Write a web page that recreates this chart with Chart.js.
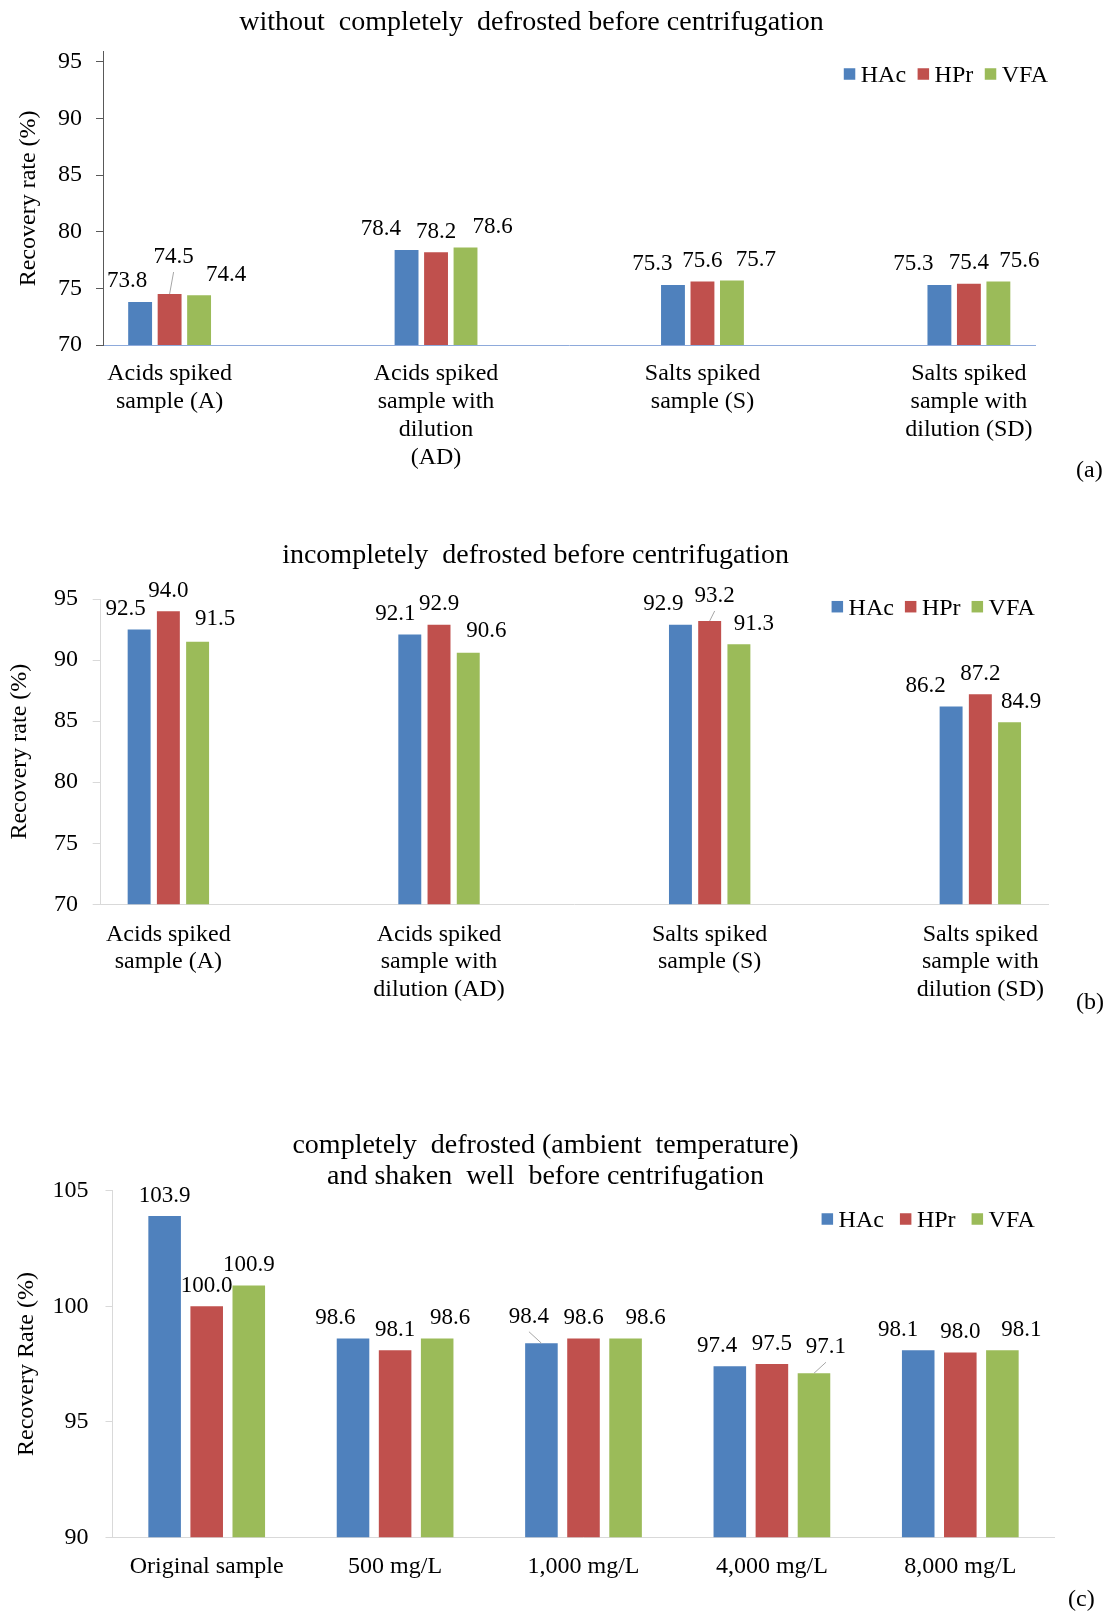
<!DOCTYPE html>
<html>
<head>
<meta charset="utf-8">
<script src="https://cdn.jsdelivr.net/npm/chart.js@4.4.1/dist/chart.umd.min.js"></script>
<style>
  html, body { margin: 0; padding: 0; background: #fff; }
  #page { position: relative; width: 1111px; height: 1617px; overflow: hidden; background: #fff; }
  #page canvas { position: absolute; left: 0; }
</style>
</head>
<body>
<div id="page">
  <canvas id="chartA" width="1111" height="490" style="top:0px"></canvas>
  <canvas id="chartB" width="1111" height="520" style="top:500px"></canvas>
  <canvas id="chartC" width="1111" height="527" style="top:1090px"></canvas>
</div>
<script>
// ---- data ----
const seriesNames = ['HAc', 'HPr', 'VFA'];

// (a) without completely defrosted before centrifugation
const categoriesA = [
  ['Acids spiked', 'sample (A)'],
  ['Acids spiked', 'sample with', 'dilution', '(AD)'],
  ['Salts spiked', 'sample (S)'],
  ['Salts spiked', 'sample with', 'dilution (SD)']
];
const hacA = [73.8, 78.4, 75.3, 75.3];
const hprA = [74.5, 78.2, 75.6, 75.4];
const vfaA = [74.4, 78.6, 75.7, 75.6];
const yTicksA = [70, 75, 80, 85, 90, 95];

// (b) incompletely defrosted before centrifugation
const categoriesB = [
  ['Acids spiked', 'sample (A)'],
  ['Acids spiked', 'sample with', 'dilution (AD)'],
  ['Salts spiked', 'sample (S)'],
  ['Salts spiked', 'sample with', 'dilution (SD)']
];
const hacB = [92.5, 92.1, 92.9, 86.2];
const hprB = [94.0, 92.9, 93.2, 87.2];
const vfaB = [91.5, 90.6, 91.3, 84.9];
const yTicksB = [70, 75, 80, 85, 90, 95];

// (c) completely defrosted and shaken well before centrifugation
const categoriesC = ['Original sample', '500 mg/L', '1,000 mg/L', '4,000 mg/L', '8,000 mg/L'];
const hacC = [103.9, 98.6, 98.4, 97.4, 98.1];
const hprC = [100.0, 98.1, 98.6, 97.5, 98.0];
const vfaC = [100.9, 98.6, 98.6, 97.1, 98.1];
const yTicksC = [90, 95, 100, 105];

// ---- styling ----
const SERIF = "'Liberation Serif', 'Times New Roman', Times, serif";
const seriesColors = ['#4F81BD', '#C0504D', '#9BBB59'];
Chart.defaults.font.family = SERIF;
Chart.defaults.color = '#000';

// Value labels above each bar, with optional nudges and leader lines
const valueLabels = {
  id: 'valueLabels',
  afterDatasetsDraw(chart, args, o) {
    const ctx = chart.ctx;
    ctx.save();
    ctx.font = o.size + 'px ' + SERIF;
    ctx.textAlign = 'center';
    ctx.textBaseline = 'alphabetic';
    chart.data.datasets.forEach((ds, si) => {
      chart.getDatasetMeta(si).data.forEach((bar, ci) => {
        const raw = ds.data[ci];
        const v = typeof raw === 'object' ? raw.y : raw;
        const dx = (o.dx[si] || [])[ci] || 0;
        const lift = (o.lift[si] || [])[ci] || 0;
        const x = bar.x + dx;
        const y = bar.y - o.rise - lift;
        if (o.leaders.some(p => p[0] === si && p[1] === ci)) {
          ctx.strokeStyle = '#A6A6A6';
          ctx.lineWidth = 1;
          ctx.beginPath();
          ctx.moveTo(x, y + 9);
          ctx.lineTo(bar.x, bar.y);
          ctx.stroke();
        }
        ctx.fillStyle = '#000';
        ctx.fillText(v.toFixed(1), x, y);
      });
    });
    ctx.restore();
  }
};

// Panel title, legend and panel tag
const panelText = {
  id: 'panelText',
  afterDraw(chart, args, o) {
    const ctx = chart.ctx;
    ctx.save();
    ctx.fillStyle = '#000';
    ctx.textBaseline = 'alphabetic';
    ctx.textAlign = 'center';
    ctx.font = o.titleSize + 'px ' + SERIF;
    o.title.forEach((line, i) => ctx.fillText(line, o.titleX, o.titleY + i * o.titleGap));

    ctx.font = '24px ' + SERIF;
    ctx.textAlign = 'left';
    const box = 11.5, boxGap = 5.5;
    const items = chart.data.datasets.map(d => ({ label: d.label, color: d.backgroundColor }));
    const total = items.reduce((s, it) => s + box + boxGap + ctx.measureText(it.label).width, 0)
      + o.legendGap * (items.length - 1);
    let x = o.legendRight - total;
    items.forEach(it => {
      ctx.fillStyle = it.color;
      ctx.fillRect(x, o.legendY - box / 2, box, box);
      x += box + boxGap;
      ctx.fillStyle = '#000';
      ctx.fillText(it.label, x, o.legendY + 8);
      x += ctx.measureText(it.label).width + o.legendGap;
    });

    ctx.fillText(o.tag, o.tagX, o.tagY);
    ctx.restore();
  }
};

function makePanel(id, p) {
  const canvas = document.getElementById(id);
  const W = canvas.width, H = canvas.height;
  const linearX = !Array.isArray(p.labels);
  const series = [p.hac, p.hpr, p.vfa];
  const datasets = series.map((vals, si) => ({
    label: seriesNames[si],
    backgroundColor: seriesColors[si],
    borderWidth: 0,
    categoryPercentage: p.catPct,
    barPercentage: p.barPct,
    data: linearX ? vals.map((v, i) => ({ x: i, y: v })) : vals
  }));

  const xScale = {
    offset: !linearX,
    ticks: {
      font: { size: 24, lineHeight: p.lineH / 24 },
      color: '#000',
      padding: p.xPad,
      maxRotation: 0, minRotation: 0,
      autoSkip: false
    },
    grid: { display: false, drawTicks: false, tickLength: 0 },
    border: { display: true, color: p.xAxisColor, width: 1 },
    afterFit: s => { s.height = H - p.area.bottom; }
  };
  if (linearX) {
    const cats = p.cats;
    xScale.type = 'linear';
    xScale.min = -0.25;
    xScale.max = cats.length - 0.75;
    xScale.afterBuildTicks = s => { s.ticks = cats.map((_, i) => ({ value: i })); };
    xScale.ticks.callback = v => cats[v];
  } else {
    xScale.type = 'category';
  }

  return new Chart(canvas, {
    type: 'bar',
    data: { labels: linearX ? undefined : p.labels, datasets },
    plugins: [valueLabels, panelText],
    options: {
      responsive: false,
      animation: false,
      devicePixelRatio: 1,
      events: [],
      layout: { padding: { left: 0, right: W - p.area.right, top: p.area.top, bottom: 0 } },
      scales: {
        x: xScale,
        y: {
          min: p.yMin, max: p.yMax,
          afterBuildTicks: s => { s.ticks = p.yTicks.map(v => ({ value: v })); },
          ticks: { font: { size: 24 }, color: '#000', padding: p.yPad },
          grid: { display: true, drawOnChartArea: false, drawTicks: true, tickLength: p.tickLen, color: p.yAxisColor, lineWidth: 1 },
          border: { display: true, color: p.yAxisColor, width: 1 },
          title: {
            display: true, text: p.yTitle, color: '#000',
            font: { size: 24, lineHeight: 1.2 },
            padding: { top: p.yTitleX - 14.4, bottom: 0 }
          },
          afterFit: s => { s.width = p.area.left; }
        }
      },
      plugins: {
        legend: { display: false },
        tooltip: { enabled: false },
        valueLabels: p.labelOpts,
        panelText: p.text
      }
    }
  });
}

makePanel('chartA', {
  cats: categoriesA, hac: hacA, hpr: hprA, vfa: vfaA, yTicks: yTicksA,
  yMin: 70, yMax: 95.9, yTitle: 'Recovery rate (%)', yTitleX: 28.6,
  area: { left: 103, right: 1035.5, top: 51.7, bottom: 345 },
  catPct: 0.332, barPct: 0.81, lineH: 28, xPad: 14.9, yPad: 14, tickLen: 7,
  xAxisColor: '#8EAADB', yAxisColor: '#595959',
  labelOpts: {
    size: 23, rise: 14.5,
    dx: [[-13, -25.6, -20.5, -26], [4, 0, 0, 0], [27, 27, 24, 21]],
    lift: [[0, 0, 0, 0], [16.5, 0, 0, 0], [0, 0, 0, 0]],
    leaders: [[1, 0]]
  },
  text: {
    title: ['without  completely  defrosted before centrifugation'],
    titleX: 531.5, titleY: 29.7, titleGap: 0, titleSize: 28,
    legendRight: 1048, legendY: 74, legendGap: 11.5,
    tag: '(a)', tagX: 1076, tagY: 477
  }
});

makePanel('chartB', {
  cats: categoriesB, hac: hacB, hpr: hprB, vfa: vfaB, yTicks: yTicksB,
  yMin: 70, yMax: 95, yTitle: 'Recovery rate (%)', yTitleX: 19.6,
  area: { left: 100.7, right: 1048, top: 99, bottom: 404.3 },
  catPct: 0.324, barPct: 0.785, lineH: 27.5, xPad: 16.6, yPad: 14.7, tickLen: 8,
  xAxisColor: '#D9D9D9', yAxisColor: '#D9D9D9',
  labelOpts: {
    size: 23, rise: 14.5,
    dx: [[-13.6, -14.4, -17, -25.5], [0, 0, 5, 0], [17.5, 18, 15, 11.6]],
    lift: [[0, 0, 0, 0], [0, 0, 4.5, 0], [2.3, 1.5, 0, 0]],
    leaders: [[1, 2]]
  },
  text: {
    title: ['incompletely  defrosted before centrifugation'],
    titleX: 535.6, titleY: 62.7, titleGap: 0, titleSize: 28,
    legendRight: 1034.8, legendY: 106.7, legendGap: 11,
    tag: '(b)', tagX: 1076, tagY: 509
  }
});

makePanel('chartC', {
  labels: categoriesC, hac: hacC, hpr: hprC, vfa: vfaC, yTicks: yTicksC,
  yMin: 90, yMax: 105, yTitle: 'Recovery Rate (%)', yTitleX: 26.8,
  area: { left: 112.5, right: 1054.5, top: 100.7, bottom: 447.3 },
  catPct: 0.67, barPct: 0.774, lineH: 28, xPad: 15.9, yPad: 17, tickLen: 7,
  xAxisColor: '#D9D9D9', yAxisColor: '#D9D9D9',
  labelOpts: {
    size: 23, rise: 14.5,
    dx: [[0, -17.6, -12.5, -12.6, -20], [0, 0, 0, 0, 0], [0, 13, 20, 12, 19]],
    lift: [[0, 0, 6, 0, 0], [0, 0, 0, 0, 0], [0, 0, 0, 5.5, 0]],
    leaders: [[0, 2], [2, 3]]
  },
  text: {
    title: ['completely  defrosted (ambient  temperature)', 'and shaken  well  before centrifugation'],
    titleX: 545.5, titleY: 62.7, titleGap: 31.6, titleSize: 28,
    legendRight: 1034.8, legendY: 129, legendGap: 16,
    tag: '(c)', tagX: 1068, tagY: 516
  }
});
</script>
</body>
</html>
